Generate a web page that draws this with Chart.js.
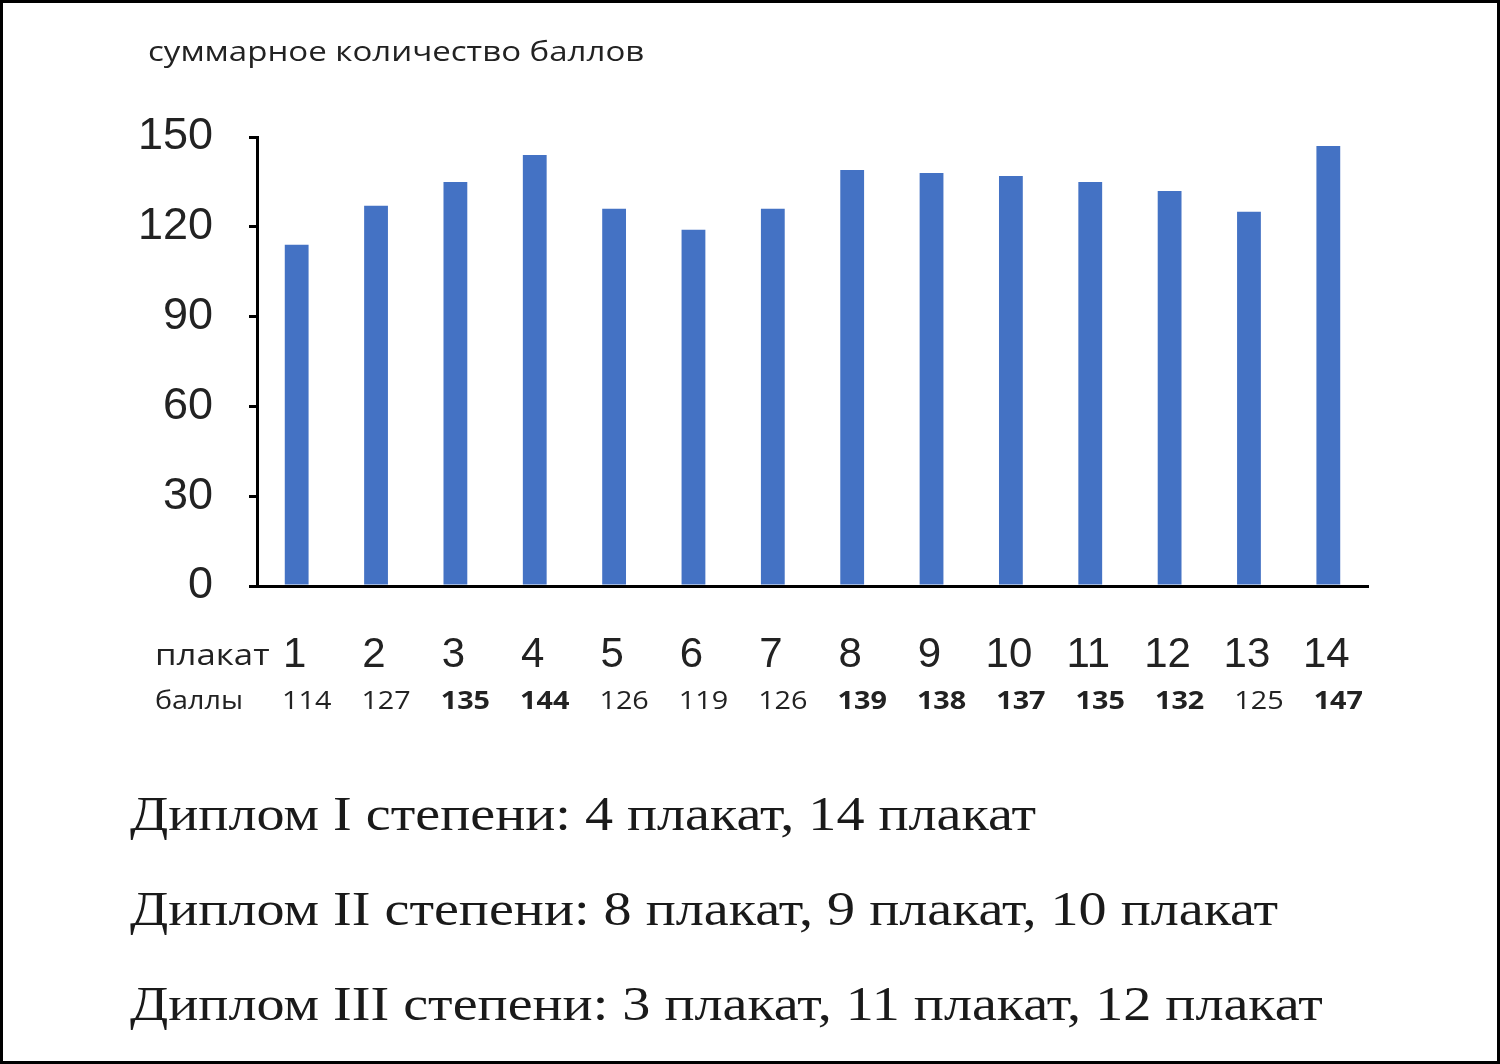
<!DOCTYPE html>
<html><head><meta charset="utf-8">
<script src="https://cdn.jsdelivr.net/npm/chart.js@4/dist/chart.umd.min.js"></script>
<style>
html,body{margin:0;padding:0;background:#fff;}
#wrap{position:relative;width:1500px;height:1064px;}
#frame{position:absolute;left:0;top:0;width:1500px;height:1064px;box-sizing:border-box;border:3px solid #000;pointer-events:none;}
</style></head><body>
<div id="wrap"><canvas id="c" width="1500" height="1064"></canvas><div id="frame"></div></div>
<script>
const categories = ['1','2','3','4','5','6','7','8','9','10','11','12','13','14'];
const scores = [114,127,135,144,126,119,126,139,138,137,135,132,125,147];
const boldFlags = [false,false,true,true,false,false,false,true,true,true,true,true,false,true];
const yTicks = [0,30,60,90,120,150];
const title = 'суммарное количество баллов';
const rowLabel1 = 'плакат';
const rowLabel2 = 'баллы';
const notes = ['Диплом I степени: 4 плакат, 14 плакат','Диплом II степени: 8 плакат, 9 плакат, 10 плакат','Диплом III степени: 3 плакат, 11 плакат, 12 плакат'];

function wideText(ctx, s, x, y, sx){
  ctx.save(); ctx.translate(x, y); ctx.scale(sx, 1); ctx.fillText(s, 0, 0); ctx.restore();
}

const textPlugin = {
  id:'txt',
  afterDraw(chart){
    const ctx = chart.ctx, x = chart.scales.x;
    ctx.save();
    ctx.fillStyle = '#222';
    ctx.textBaseline = 'middle';
    ctx.textAlign = 'left';
    ctx.font = '500 28px "Open Sans", Arial, sans-serif';
    wideText(ctx, title, 148, 53, 1.18);
    ctx.font = '500 29px "Open Sans", Arial, sans-serif';
    wideText(ctx, rowLabel1, 155, 657, 1.2);
    ctx.font = '25px "Open Sans", Arial, sans-serif';
    wideText(ctx, rowLabel2, 155, 702, 1.15);
    ctx.textAlign = 'center';
    categories.forEach((c,i)=>{
      const px = x.getPixelForValue(i);
      ctx.font = '42px Arial, "Liberation Sans", sans-serif';
      ctx.fillText(c, px - 2, 655);
      ctx.font = (boldFlags[i]?'bold ':'') + '25px "Open Sans", Arial, sans-serif';
      wideText(ctx, String(scores[i]), px + 10, 702, 1.15);
    });
    ctx.textAlign = 'left';
    ctx.fillStyle = '#1a1a1a';
    ctx.font = '48px "Liberation Serif", "Times New Roman", serif';
    notes.forEach((n,i)=>wideText(ctx, n, 130, 817 + i*95, 1.17));
    ctx.restore();
  }
};

new Chart(document.getElementById('c'), {
  type:'bar',
  data:{labels:categories, datasets:[{data:scores, backgroundColor:'#4472C4', barPercentage:0.3, categoryPercentage:1}]},
  options:{
    responsive:false, animation:false,
    layout:{padding:{left:0, top:137, right:132, bottom:478}},
    plugins:{legend:{display:false}, tooltip:{enabled:false}},
    scales:{
      x:{
        ticks:{display:false},
        grid:{display:false},
        border:{color:'#000', width:3},
        afterFit(s){ s.height = 0; }
      },
      y:{
        min:0, max:150,
        afterBuildTicks(s){ s.ticks = yTicks.map(v=>({value:v})); },
        ticks:{color:'#222', font:{size:45, family:'Arial, "Liberation Sans", sans-serif'}, padding:36},
        grid:{drawOnChartArea:false, drawTicks:true, tickLength:8, color:'#000', lineWidth:3},
        border:{color:'#000', width:3},
        afterFit(s){ s.width = 257; }
      }
    }
  },
  plugins:[textPlugin]
});
</script>
</body></html>
